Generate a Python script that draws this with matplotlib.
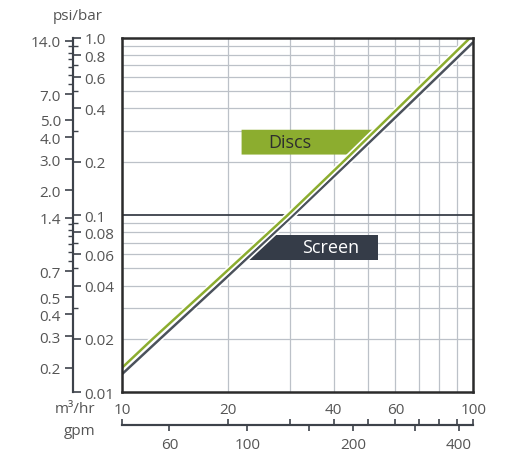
import matplotlib
matplotlib.use('Agg')
import matplotlib.pyplot as plt
import matplotlib.patheffects as pe
from matplotlib.patches import Polygon
from matplotlib.ticker import NullFormatter

plt.rcParams['font.family'] = ['Open Sans', 'DejaVu Sans']

# ---------------- data ----------------
discs_flow = [10, 12.2, 17.9, 29.6, 42.6, 61.0, 97.9]
discs_bar = [0.0138, 0.02, 0.04, 0.1, 0.2, 0.4, 1.0]
screen_flow = [10, 12.8, 18.7, 30.7, 44.3, 63.8, 100]
screen_bar = [0.0127, 0.02, 0.04, 0.1, 0.2, 0.4, 0.946]
series_labels = ['Discs', 'Screen']

flow_labels = [10, 20, 40, 60, 100]
flow_grid_minor = [30, 50, 70, 80, 90]
flow_ticks_all = [10, 20, 30, 40, 50, 60, 70, 80, 90, 100]
gpm_major = [60, 100, 200, 400]
gpm_minor = [150, 300]
bar_major = [1.0, 0.8, 0.6, 0.4, 0.2, 0.1, 0.08, 0.06, 0.04, 0.02, 0.01]
bar_minor = [0.9, 0.7, 0.5, 0.3, 0.09, 0.07, 0.05, 0.03]
bar_grid = [0.02, 0.03, 0.04, 0.05, 0.06, 0.07, 0.08, 0.09,
            0.2, 0.3, 0.4, 0.5, 0.6, 0.7, 0.8, 0.9]
psi_major = [14.0, 7.0, 5.0, 4.0, 3.0, 2.0, 1.4, 0.7, 0.5, 0.4, 0.3, 0.2]
psi_minor = [13, 12, 11, 10, 9, 8, 1.3, 1.2, 1.1, 1.0, 0.9, 0.8]

BAR2PSI = 14.5038
M3H2GPM = 4.403

GREEN = '#8cad2f'
DARK_LINE = '#4b525c'
DARK_BOX = '#353c48'
TXT = '#555555'
AXC = '#3d424a'
FS = 11

fig = plt.figure(figsize=(5.16, 4.56), dpi=100)
ax = fig.add_axes([0.237, 0.1375, 0.680, 0.777])
ax.set_xscale('log')
ax.set_yscale('log')
ax.set_xlim(10, 100)
ax.set_ylim(0.01, 1.0)

# grid
ax.set_xticks(flow_labels)
ax.set_xticklabels([str(v) for v in flow_labels])
ax.set_xticks(flow_grid_minor, minor=True)
ax.xaxis.set_minor_formatter(NullFormatter())
ax.tick_params(axis='x', which='both', length=0, pad=7, labelsize=FS, labelcolor=TXT)
ax.set_yticks(bar_grid)
ax.set_yticks([], minor=True)
ax.yaxis.set_major_formatter(NullFormatter())
ax.tick_params(axis='y', which='both', length=0)
ax.grid(True, which='both', color='#bcc1c8', lw=0.9)
ax.axhline(0.1, color='#3a404a', lw=1.3, zorder=2)
for s in ax.spines.values():
    s.set_color('#2b2b2b')
    s.set_linewidth(1.8)
    s.set_zorder(5)

# label boxes
disc_box = Polygon([(0.340, 0.741), (0.735, 0.741), (0.660, 0.671), (0.340, 0.671)],
                   closed=True, transform=ax.transAxes, facecolor=GREEN,
                   edgecolor='none', zorder=3)
screen_box = Polygon([(0.429, 0.445), (0.730, 0.445), (0.730, 0.373), (0.356, 0.373)],
                     closed=True, transform=ax.transAxes, facecolor=DARK_BOX,
                     edgecolor='none', zorder=3)
ax.add_patch(disc_box)
ax.add_patch(screen_box)
ax.text(0.478, 0.706, series_labels[0], transform=ax.transAxes, ha='center',
        va='center', fontsize=13, color='#2e2e2e', zorder=6)
ax.text(0.594, 0.409, series_labels[1], transform=ax.transAxes, ha='center',
        va='center', fontsize=13, color='white', zorder=6)

# lines
stroke = [pe.Stroke(linewidth=4.2, foreground='white'), pe.Normal()]
ax.plot(screen_flow, screen_bar, color=DARK_LINE, lw=1.8, zorder=4,
        path_effects=stroke, solid_capstyle='butt')
ax.plot(discs_flow, discs_bar, color=GREEN, lw=1.8, zorder=4,
        path_effects=stroke, solid_capstyle='butt')

# left dual axis (psi left, bar right)
LOC = -0.1413
sec_bar = ax.secondary_yaxis(LOC)
sec_bar.set_alignment('right')
sec_bar.set_yticks(bar_major)
sec_bar.set_yticklabels([('%.2f' % v).rstrip('0') if v < 0.1 else '%.1f' % v for v in bar_major])
sec_bar.set_yticks(bar_minor, minor=True)
sec_bar.yaxis.set_minor_formatter(NullFormatter())
sec_bar.tick_params(which='major', length=5.5, width=1.2, color=AXC, pad=3,
                    labelsize=FS, labelcolor=TXT)
sec_bar.tick_params(which='minor', length=3.5, width=1.0, color=AXC)
sec_bar.spines['right'].set_color(AXC)
sec_bar.spines['right'].set_linewidth(1.5)

sec_psi = ax.secondary_yaxis(LOC, functions=(lambda b: b * BAR2PSI, lambda p: p / BAR2PSI))
sec_psi.set_yticks(psi_major)
sec_psi.set_yticklabels(['%.1f' % v for v in psi_major])
sec_psi.set_yticks(psi_minor, minor=True)
sec_psi.yaxis.set_minor_formatter(NullFormatter())
sec_psi.tick_params(which='major', length=5.5, width=1.2, color=AXC, pad=3,
                    labelsize=FS, labelcolor=TXT)
sec_psi.tick_params(which='minor', length=3.5, width=1.0, color=AXC)
sec_psi.spines['left'].set_color(AXC)
sec_psi.spines['left'].set_linewidth(1.5)

# bottom gpm axis with m3/hr up-ticks
XLOC = -0.0923
sec_m = ax.secondary_xaxis(XLOC)
sec_m.set_xticks(flow_ticks_all)
sec_m.set_xticks([], minor=True)
sec_m.xaxis.set_major_formatter(NullFormatter())
sec_m.tick_params(which='major', direction='in', length=4.5, width=1.2, color=AXC)
sec_m.spines['bottom'].set_color(AXC)
sec_m.spines['bottom'].set_linewidth(1.5)

sec_g = ax.secondary_xaxis(XLOC, functions=(lambda q: q * M3H2GPM, lambda g: g / M3H2GPM))
sec_g.set_xticks(gpm_major)
sec_g.set_xticklabels([str(v) for v in gpm_major])
sec_g.set_xticks(gpm_minor, minor=True)
sec_g.xaxis.set_minor_formatter(NullFormatter())
sec_g.tick_params(which='both', direction='out', length=4.5, width=1.2, color=AXC,
                  pad=4, labelsize=FS, labelcolor=TXT)
sec_g.spines['bottom'].set_color(AXC)
sec_g.spines['bottom'].set_linewidth(1.5)

# axis titles
fig.text(78 / 516, 1 - 16 / 456, 'psi/bar', ha='center', va='center', fontsize=FS, color=TXT)
fig.text(95 / 516, 1 - 410 / 456, 'm³/hr', ha='right', va='center', fontsize=FS, color=TXT)
fig.text(95 / 516, 1 - 432 / 456, 'gpm', ha='right', va='center', fontsize=FS, color=TXT)

fig.savefig('out.png', dpi=100, facecolor='white')
